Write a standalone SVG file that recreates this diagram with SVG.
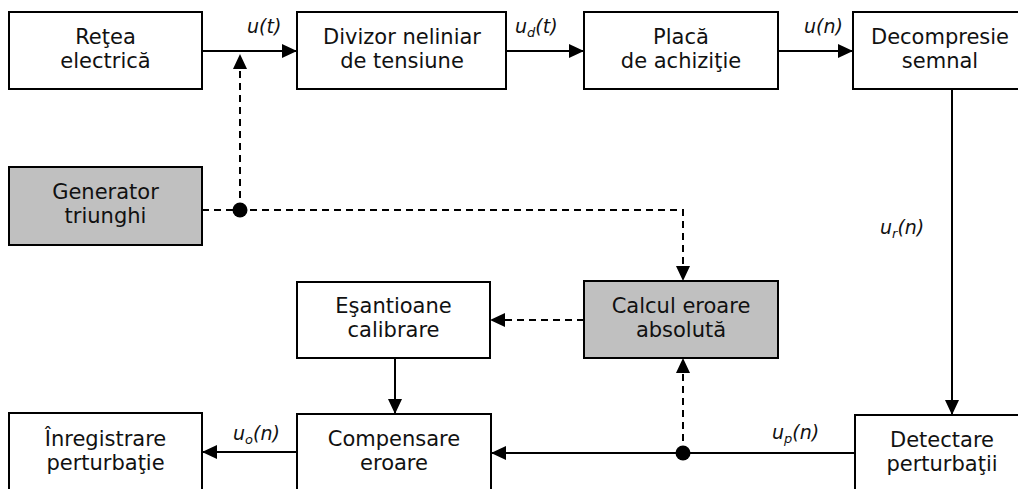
<svg xmlns="http://www.w3.org/2000/svg" width="1018" height="489" viewBox="0 0 1018 489">
  <style>
    .box { fill: #ffffff; stroke: #000000; stroke-width: 2; }
    .box.shade { fill: #c0c0c0; }
    .lbl { font-family: "DejaVu Sans", Verdana, sans-serif; font-size: 21px; fill: #111111; text-anchor: middle; }
    .sig { font-family: "DejaVu Sans", Verdana, sans-serif; font-size: 19px; font-style: italic; fill: #111111; }
    .sub { font-size: 13px; }
    .wire { fill: none; stroke: #000000; stroke-width: 2; }
    .dash { stroke-dasharray: 7 5; }
    .dot { fill: #000000; }
  </style>
  <defs>
    <marker id="arrow" viewBox="0 0 15 14" refX="15" refY="7" markerWidth="15" markerHeight="14" markerUnits="userSpaceOnUse" orient="auto">
      <path d="M0,0 L15,7 L0,14 Z" fill="#000000"/>
    </marker>
  </defs>

  <rect width="1018" height="489" fill="#ffffff"/>

  <!-- connectors -->
  <g id="connectors">
    <line class="wire" x1="202" y1="51" x2="297" y2="51" marker-end="url(#arrow)"/>
    <line class="wire" x1="506" y1="51" x2="584" y2="51" marker-end="url(#arrow)"/>
    <line class="wire" x1="778" y1="51" x2="853" y2="51" marker-end="url(#arrow)"/>
    <line class="wire" x1="952" y1="89" x2="952" y2="415" marker-end="url(#arrow)"/>
    <line class="wire" x1="855" y1="453" x2="491" y2="453" marker-end="url(#arrow)"/>
    <line class="wire" x1="297" y1="452" x2="202" y2="452" marker-end="url(#arrow)"/>
    <line class="wire" x1="395" y1="358" x2="395" y2="414" marker-end="url(#arrow)"/>
    <line class="wire dash" x1="240" y1="210" x2="240" y2="54" marker-end="url(#arrow)"/>
    <polyline class="wire dash" points="202,210 683,210 683,281" marker-end="url(#arrow)"/>
    <line class="wire dash" x1="584" y1="320" x2="490" y2="320" marker-end="url(#arrow)"/>
    <line class="wire dash" x1="683" y1="453" x2="683" y2="358" marker-end="url(#arrow)"/>
    <circle class="dot" cx="240" cy="210" r="7.5"/>
    <circle class="dot" cx="683" cy="453" r="7.5"/>

    <text class="sig" x="247" y="33">u(t)</text>
    <text class="sig" x="515" y="33">u<tspan class="sub" dy="4">d</tspan><tspan dy="-4">(t)</tspan></text>
    <text class="sig" x="804" y="33">u(n)</text>
    <text class="sig" x="880" y="234">u<tspan class="sub" dy="4">r</tspan><tspan dy="-4">(n)</tspan></text>
    <text class="sig" x="772" y="439">u<tspan class="sub" dy="4">p</tspan><tspan dy="-4">(n)</tspan></text>
    <text class="sig" x="233" y="440">u<tspan class="sub" dy="4">o</tspan><tspan dy="-4">(n)</tspan></text>
  </g>

  <!-- blocks -->
  <g id="retea">
    <rect class="box" x="9" y="12" width="193" height="77"/>
    <text class="lbl" x="105.5" y="44">Reţea</text>
    <text class="lbl" x="105.5" y="68">electrică</text>
  </g>
  <g id="divizor">
    <rect class="box" x="297" y="12" width="209" height="77"/>
    <text class="lbl" x="402" y="44">Divizor neliniar</text>
    <text class="lbl" x="402" y="68">de tensiune</text>
  </g>
  <g id="placa">
    <rect class="box" x="584" y="12" width="194" height="77"/>
    <text class="lbl" x="681" y="44">Placă</text>
    <text class="lbl" x="681" y="68">de achiziţie</text>
  </g>
  <g id="decompresie">
    <rect class="box" x="853" y="12" width="193" height="77"/>
    <text class="lbl" x="940" y="44">Decompresie</text>
    <text class="lbl" x="940" y="68">semnal</text>
  </g>
  <g id="generator">
    <rect class="box shade" x="9" y="167" width="193" height="78"/>
    <text class="lbl" x="105.5" y="199">Generator</text>
    <text class="lbl" x="105.5" y="223">triunghi</text>
  </g>
  <g id="esantioane">
    <rect class="box" x="297" y="282" width="193" height="76"/>
    <text class="lbl" x="393.5" y="313">Eşantioane</text>
    <text class="lbl" x="393.5" y="337">calibrare</text>
  </g>
  <g id="calcul">
    <rect class="box shade" x="584" y="281" width="194" height="77"/>
    <text class="lbl" x="681" y="313">Calcul eroare</text>
    <text class="lbl" x="681" y="337">absolută</text>
  </g>
  <g id="inregistrare">
    <rect class="box" x="9" y="413" width="193" height="77"/>
    <text class="lbl" x="105.5" y="446">Înregistrare</text>
    <text class="lbl" x="105.5" y="470">perturbaţie</text>
  </g>
  <g id="compensare">
    <rect class="box" x="297" y="414" width="194" height="77"/>
    <text class="lbl" x="394" y="446">Compensare</text>
    <text class="lbl" x="394" y="470">eroare</text>
  </g>
  <g id="detectare">
    <rect class="box" x="855" y="415" width="193" height="77"/>
    <text class="lbl" x="942" y="447">Detectare</text>
    <text class="lbl" x="942" y="471">perturbaţii</text>
  </g>
</svg>
